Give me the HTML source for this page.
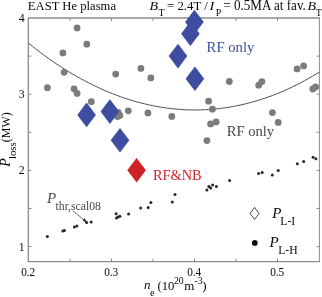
<!DOCTYPE html>
<html><head><meta charset="utf-8"><style>
html,body{margin:0;padding:0;background:#fff;}
body{width:322px;height:297px;overflow:hidden;position:relative;}
svg{position:absolute;left:0;top:0;will-change:transform;font-family:"Liberation Serif",serif;}
</style></head><body>
<svg width="322" height="297" viewBox="0 0 322 297">
<path d="M28.3,17.4 V261.6 H320.0 M28.3,18.0 H320.0" fill="none" stroke="#8a8a8a" stroke-width="1.3"/>
<path d="M319.4,18.0 V261.6" fill="none" stroke="#8a8a8a" stroke-width="1"/>
<path d="M70.0,261.6 v-3.0 M70.0,18.0 v3.0 M111.5,261.6 v-3.0 M111.5,18.0 v3.0 M153.0,261.6 v-3.0 M153.0,18.0 v3.0 M194.5,261.6 v-3.0 M194.5,18.0 v3.0 M236.0,261.6 v-3.0 M236.0,18.0 v3.0 M277.5,261.6 v-3.0 M277.5,18.0 v3.0 M28.5,246.6 h3.0 M319.5,246.6 h-3.0 M28.5,208.5 h3.0 M319.5,208.5 h-3.0 M28.5,170.4 h3.0 M319.5,170.4 h-3.0 M28.5,132.3 h3.0 M319.5,132.3 h-3.0 M28.5,94.2 h3.0 M319.5,94.2 h-3.0 M28.5,56.1 h3.0 M319.5,56.1 h-3.0" stroke="#8a8a8a" stroke-width="1" fill="none"/>
<path d="M28.5,43.1 L32.5,46.3 L36.5,49.5 L40.5,52.5 L44.5,55.5 L48.5,58.4 L52.5,61.2 L56.5,63.9 L60.5,66.6 L64.5,69.1 L68.5,71.6 L72.5,74.0 L76.5,76.3 L80.5,78.6 L84.5,80.7 L88.5,82.8 L92.5,84.8 L96.5,86.7 L100.5,88.6 L104.5,90.4 L108.5,92.1 L112.5,93.7 L116.5,95.2 L120.5,96.7 L124.5,98.1 L128.5,99.4 L132.5,100.6 L136.5,101.8 L140.5,102.8 L144.5,103.8 L148.5,104.8 L152.5,105.6 L156.5,106.4 L160.5,107.1 L164.5,107.7 L168.5,108.3 L172.5,108.7 L176.5,109.1 L180.5,109.4 L184.5,109.7 L188.5,109.9 L192.5,109.9 L196.5,110.0 L200.5,109.9 L204.5,109.7 L208.5,109.5 L212.5,109.2 L216.5,108.9 L220.5,108.4 L224.5,107.9 L228.5,107.3 L232.5,106.6 L236.5,105.8 L240.5,105.0 L244.5,104.1 L248.5,103.1 L252.5,102.0 L256.5,100.9 L260.5,99.6 L264.5,98.3 L268.5,96.9 L272.5,95.5 L276.5,93.9 L280.5,92.3 L284.5,90.6 L288.5,88.8 L292.5,86.9 L296.5,84.9 L300.5,82.9 L304.5,80.7 L308.5,78.5 L312.5,76.2 L316.5,73.8 L319.2,72.2" stroke="#3c3c3c" stroke-width="0.9" fill="none"/>
<circle cx="77.1" cy="28.0" r="3.4" fill="#7b7b7b"/>
<circle cx="86.8" cy="44.2" r="3.4" fill="#7b7b7b"/>
<circle cx="62.9" cy="52.9" r="3.4" fill="#7b7b7b"/>
<circle cx="64.1" cy="72.3" r="3.4" fill="#7b7b7b"/>
<circle cx="47.4" cy="87.7" r="3.4" fill="#7b7b7b"/>
<circle cx="74.1" cy="88.9" r="3.4" fill="#7b7b7b"/>
<circle cx="77.1" cy="93.4" r="3.4" fill="#7b7b7b"/>
<circle cx="91.3" cy="101.7" r="3.4" fill="#7b7b7b"/>
<circle cx="115.7" cy="74.1" r="3.4" fill="#7b7b7b"/>
<circle cx="140.9" cy="68.4" r="3.4" fill="#7b7b7b"/>
<circle cx="150.8" cy="77.9" r="3.4" fill="#7b7b7b"/>
<circle cx="128.3" cy="110.8" r="3.4" fill="#7b7b7b"/>
<circle cx="147.9" cy="112.9" r="3.4" fill="#7b7b7b"/>
<circle cx="118.2" cy="112.5" r="3.4" fill="#7b7b7b"/>
<circle cx="119.8" cy="115.5" r="3.4" fill="#7b7b7b"/>
<circle cx="117.5" cy="116.5" r="3.4" fill="#7b7b7b"/>
<circle cx="171.8" cy="116.4" r="3.4" fill="#7b7b7b"/>
<circle cx="229.3" cy="81.5" r="3.4" fill="#7b7b7b"/>
<circle cx="208.6" cy="101.2" r="3.4" fill="#7b7b7b"/>
<circle cx="212.4" cy="109.2" r="3.4" fill="#7b7b7b"/>
<circle cx="210.6" cy="123.9" r="3.4" fill="#7b7b7b"/>
<circle cx="216.1" cy="121.9" r="3.4" fill="#7b7b7b"/>
<circle cx="206.9" cy="140.6" r="3.4" fill="#7b7b7b"/>
<circle cx="297.1" cy="68.9" r="3.4" fill="#7b7b7b"/>
<circle cx="303.6" cy="65.9" r="3.4" fill="#7b7b7b"/>
<circle cx="261.9" cy="81.6" r="3.4" fill="#7b7b7b"/>
<circle cx="258.7" cy="85.2" r="3.4" fill="#7b7b7b"/>
<circle cx="315.6" cy="87.0" r="3.4" fill="#7b7b7b"/>
<circle cx="312.8" cy="89.0" r="3.4" fill="#7b7b7b"/>
<circle cx="272.4" cy="112.6" r="3.4" fill="#7b7b7b"/>
<circle cx="278.2" cy="122.4" r="3.4" fill="#7b7b7b"/>
<path d="M86.6,102.6 L95.9,114.9 L86.6,127.2 L77.3,114.9Z" fill="#3e4da0"/>
<path d="M109.9,99.3 L119.2,111.6 L109.9,123.9 L100.6,111.6Z" fill="#3e4da0"/>
<path d="M120.0,128.0 L129.3,140.3 L120.0,152.6 L110.7,140.3Z" fill="#3e4da0"/>
<path d="M194.4,9.7 L203.7,22.0 L194.4,34.3 L185.1,22.0Z" fill="#3e4da0"/>
<path d="M190.4,21.4 L199.7,33.7 L190.4,46.0 L181.1,33.7Z" fill="#3e4da0"/>
<path d="M178.0,43.8 L187.3,56.1 L178.0,68.4 L168.7,56.1Z" fill="#3e4da0"/>
<path d="M194.9,66.4 L204.2,78.7 L194.9,91.0 L185.6,78.7Z" fill="#3e4da0"/>
<path d="M136.6,158.0 L145.9,170.3 L136.6,182.6 L127.3,170.3Z" fill="#cf2228"/>
<circle cx="47.4" cy="236.4" r="1.5" fill="#262626"/>
<circle cx="62.9" cy="231.1" r="1.5" fill="#262626"/>
<circle cx="64.4" cy="230.4" r="1.5" fill="#262626"/>
<circle cx="74.4" cy="226.9" r="1.5" fill="#262626"/>
<circle cx="76.9" cy="225.9" r="1.5" fill="#262626"/>
<circle cx="86.6" cy="222.4" r="1.5" fill="#262626"/>
<circle cx="91.1" cy="221.9" r="1.5" fill="#262626"/>
<circle cx="116.1" cy="213.7" r="1.5" fill="#262626"/>
<circle cx="116.5" cy="217.9" r="1.5" fill="#262626"/>
<circle cx="118.0" cy="217.1" r="1.5" fill="#262626"/>
<circle cx="119.9" cy="216.3" r="1.5" fill="#262626"/>
<circle cx="128.6" cy="214.0" r="1.5" fill="#262626"/>
<circle cx="140.7" cy="208.1" r="1.5" fill="#262626"/>
<circle cx="148.2" cy="207.6" r="1.5" fill="#262626"/>
<circle cx="150.9" cy="202.6" r="1.5" fill="#262626"/>
<circle cx="172.3" cy="202.1" r="1.5" fill="#262626"/>
<circle cx="175.0" cy="194.5" r="1.5" fill="#262626"/>
<circle cx="206.9" cy="189.9" r="1.5" fill="#262626"/>
<circle cx="208.9" cy="186.4" r="1.5" fill="#262626"/>
<circle cx="210.6" cy="188.1" r="1.5" fill="#262626"/>
<circle cx="212.6" cy="185.1" r="1.5" fill="#262626"/>
<circle cx="216.4" cy="186.4" r="1.5" fill="#262626"/>
<circle cx="229.6" cy="180.6" r="1.5" fill="#262626"/>
<circle cx="258.6" cy="173.6" r="1.5" fill="#262626"/>
<circle cx="262.2" cy="172.6" r="1.5" fill="#262626"/>
<circle cx="272.3" cy="174.9" r="1.5" fill="#262626"/>
<circle cx="278.2" cy="170.6" r="1.5" fill="#262626"/>
<circle cx="297.3" cy="163.7" r="1.5" fill="#262626"/>
<circle cx="303.7" cy="161.6" r="1.5" fill="#262626"/>
<circle cx="313.1" cy="157.3" r="1.5" fill="#262626"/>
<circle cx="315.9" cy="158.8" r="1.5" fill="#262626"/>
<path d="M254.6,207.4 L259.1,213.4 L254.6,219.4 L250.1,213.4Z" fill="#fff" stroke="#333" stroke-width="0.9"/>
<circle cx="254.8" cy="242.9" r="2.85" fill="#0c0c0c"/>
<path d="M72.6,210.7 L86.2,221.6" stroke="#333" stroke-width="0.7" fill="none"/>
<path d="M87.2,222.4 L82.6,220.6 L84.6,218.2Z" fill="#222"/>
<g transform="translate(27.8,10) scale(1,1.04)"><text x="0.0" y="0.0" font-size="12.65" fill="#0a0a0a">EAST He plasma</text></g>
<g transform="translate(149.6,10.0) scale(1.100,1.000)"><text x="0.0" y="0.0" font-size="12.7" font-style="italic" fill="#0a0a0a">B</text></g>
<text x="158.4" y="16.1" font-size="10" fill="#0a0a0a">T</text>
<g transform="translate(167.0,10.0) scale(1.000,1.040)"><text x="0.0" y="0.0" font-size="12.8" fill="#0a0a0a">= 2.4T /</text></g>
<g transform="translate(209.6,10.0) scale(1.150,1.000)"><text x="0.0" y="0.0" font-size="12.5" font-style="italic" fill="#0a0a0a">I</text></g>
<text x="215.7" y="16.2" font-size="10" fill="#0a0a0a">P</text>
<g transform="translate(223.3,10.0) scale(1.000,1.040)"><text x="0.0" y="0.0" font-size="13.1" fill="#0a0a0a">= 0.5MA at fav.</text></g>
<g transform="translate(307.4,10.0) scale(1.100,1.000)"><text x="0.0" y="0.0" font-size="12.7" font-style="italic" fill="#0a0a0a">B</text></g>
<text x="315.8" y="16.1" font-size="10" fill="#0a0a0a">T</text>
<text x="24.6" y="250.5" font-size="11.8" text-anchor="end" fill="#0a0a0a">1</text>
<text x="24.6" y="174.3" font-size="11.8" text-anchor="end" fill="#0a0a0a">2</text>
<text x="24.6" y="98.1" font-size="11.8" text-anchor="end" fill="#0a0a0a">3</text>
<text x="24.6" y="21.9" font-size="11.8" text-anchor="end" fill="#0a0a0a">4</text>
<g transform="translate(28.2,275.9) scale(1,1.12)"><text x="0.0" y="0.0" font-size="11.3" text-anchor="middle" fill="#0a0a0a">0.2</text></g>
<g transform="translate(111.2,275.9) scale(1,1.12)"><text x="0.0" y="0.0" font-size="11.3" text-anchor="middle" fill="#0a0a0a">0.3</text></g>
<g transform="translate(194.2,275.9) scale(1,1.12)"><text x="0.0" y="0.0" font-size="11.3" text-anchor="middle" fill="#0a0a0a">0.4</text></g>
<g transform="translate(277.2,275.9) scale(1,1.12)"><text x="0.0" y="0.0" font-size="11.3" text-anchor="middle" fill="#0a0a0a">0.5</text></g>
<text x="144.0" y="289.3" font-size="13" font-style="italic" fill="#0a0a0a">n</text>
<text x="150.0" y="295.8" font-size="10.3" fill="#0a0a0a">e</text>
<text x="157.5" y="289.6" font-size="12.7" fill="#0a0a0a">(10</text>
<text x="174.0" y="283.9" font-size="9.7" fill="#0a0a0a">20</text>
<text x="184.3" y="289.6" font-size="13" fill="#0a0a0a">m</text>
<text x="194.6" y="284.2" font-size="9.7" fill="#0a0a0a">-3</text>
<text x="202.2" y="289.6" font-size="13" fill="#0a0a0a">)</text>
<text x="206.6" y="51.5" font-size="14.7" fill="#3e4da0">RF only</text>
<text x="226.7" y="135.9" font-size="14.6" fill="#484848">RF only</text>
<text x="153.0" y="180.4" font-size="14.35" fill="#cf2228">RF&amp;NB</text>
<text x="47.0" y="202.6" font-size="15" font-style="italic" fill="#4a4a4a">P</text>
<text x="55.6" y="210.0" font-size="11.7" fill="#4a4a4a">thr,scal08</text>
<text x="272.3" y="217.6" font-size="15" font-style="italic" fill="#0a0a0a">P</text>
<text x="280.3" y="225.3" font-size="11.7" fill="#0a0a0a">L-I</text>
<text x="269.6" y="246.7" font-size="15" font-style="italic" fill="#0a0a0a">P</text>
<text x="278.2" y="253.9" font-size="11.7" fill="#0a0a0a">L-H</text>
<g transform="translate(10.1,166.7) rotate(-90)"><text x="0.0" y="0.0" font-size="14" font-style="italic" fill="#0a0a0a">P</text><text x="7.6" y="6.0" font-size="10.8" fill="#0a0a0a">loss</text><text x="24.5" y="-0.4" font-size="12" fill="#0a0a0a">(MW)</text></g>
</svg>
</body></html>
